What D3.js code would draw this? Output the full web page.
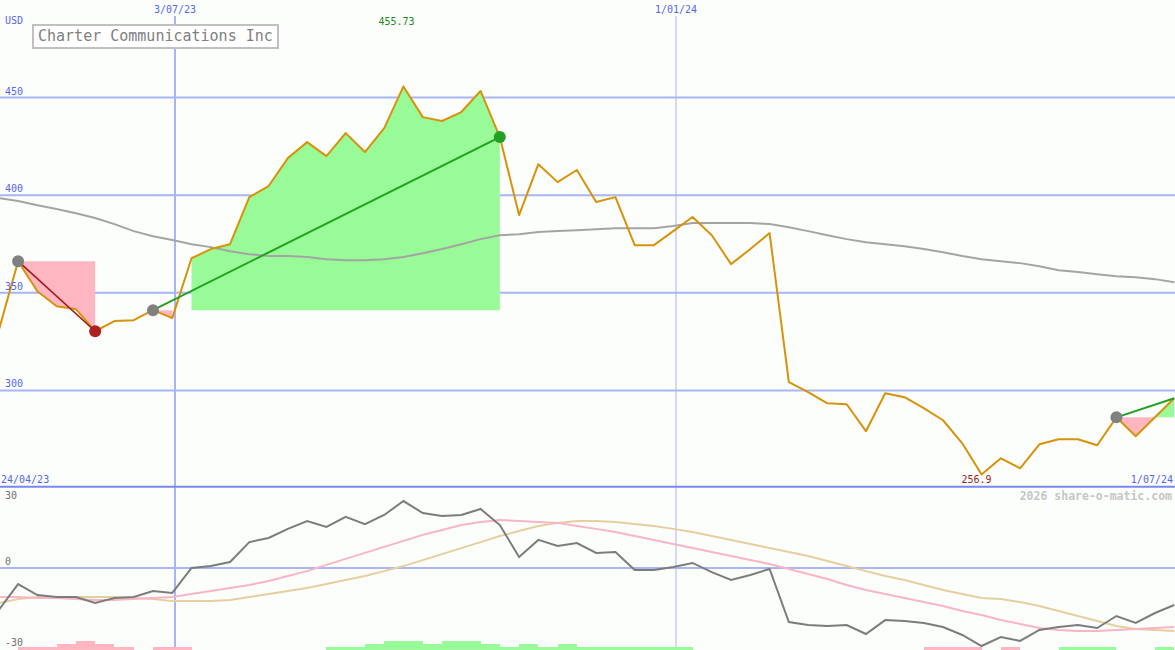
<!DOCTYPE html>
<html><head><meta charset="utf-8">
<script src="https://cdn.jsdelivr.net/npm/d3@7"></script>
<style>
html,body{margin:0;padding:0;background:#fcfefc;}
svg{display:block;}
text{font-family:"DejaVu Sans Mono",monospace;}
</style></head>
<body>
<svg id="c" width="1175" height="650"></svg>
<script>
const dates = ["2023-04-30","2023-05-07","2023-05-14","2023-05-21","2023-05-28","2023-06-04","2023-06-11","2023-06-18","2023-06-25","2023-07-02",
"2023-07-09","2023-07-16","2023-07-23","2023-07-30","2023-08-06","2023-08-13","2023-08-20","2023-08-27","2023-09-03","2023-09-10",
"2023-09-17","2023-09-24","2023-10-01","2023-10-08","2023-10-15","2023-10-22","2023-10-29","2023-11-05","2023-11-12","2023-11-19",
"2023-11-26","2023-12-03","2023-12-10","2023-12-17","2023-12-24","2023-12-31","2024-01-07","2024-01-14","2024-01-21","2024-01-28",
"2024-02-04","2024-02-11","2024-02-18","2024-02-25","2024-03-03","2024-03-10","2024-03-17","2024-03-24","2024-03-31","2024-04-07",
"2024-04-14","2024-04-21","2024-04-28","2024-05-05","2024-05-12","2024-05-19","2024-05-26","2024-06-02","2024-06-09","2024-06-16",
"2024-06-23","2024-06-30"];
const price = [330.8,366.2,350.8,343.1,341.6,330.3,335.5,336.0,341.1,337.0,
367.7,372.4,374.9,399.0,404.7,419.0,427.2,420.0,431.8,422.1,
434.4,455.73,440.0,438.0,442.6,453.4,429.8,389.8,415.9,406.7,
412.9,396.5,399.0,374.4,374.4,381.6,388.8,379.5,364.7,372.4,
380.6,304.2,299.1,293.4,292.9,279.1,298.5,296.5,290.9,284.7,
272.9,256.9,265.2,260.1,272.4,275.0,275.0,271.9,286.2,276.5,
286.2,296.0];
const priceMA = [398.5,397.0,394.9,392.9,390.8,388.3,385.2,381.6,379.0,377.0,
374.9,373.4,371.3,369.8,368.8,368.8,368.3,367.2,366.7,366.7,
367.2,368.3,370.3,372.4,374.9,377.5,379.5,380.0,381.1,381.6,
382.1,382.6,383.1,383.1,383.1,384.2,385.7,385.7,385.7,385.7,
385.2,383.6,381.6,379.5,377.5,375.9,374.9,373.9,372.4,370.8,
368.8,367.2,366.2,365.2,363.6,361.6,360.6,359.5,358.5,358.0,
357.0,355.4];
const osc = [-17.5,-6.7,-11.3,-12.1,-12.1,-14.6,-12.5,-12.1,-9.6,-10.4,
0,0.8,2.5,10.8,12.5,16.3,19.6,17.1,21.3,18.3,
22.1,27.9,22.9,21.7,22.1,24.6,17.9,4.6,11.7,9.2,
10.4,6.3,6.7,-0.8,-0.8,0.4,2.1,-1.7,-5.0,-2.9,
-0.4,-22.5,-23.75,-24.2,-23.75,-27.5,-21.7,-22.1,-22.9,-24.6,
-27.9,-32.5,-28.75,-30.4,-25.8,-24.6,-23.75,-25.0,-20.0,-22.9,
-18.75,-15.4];
const oscSignal = [-12.1,-12.1,-12.5,-12.5,-12.9,-13.3,-13.3,-12.9,-12.5,-12.1,
-10.8,-9.6,-8.3,-7.1,-5.4,-3.3,-1.3,1.3,3.8,6.3,
8.8,11.3,13.8,15.8,17.9,19.2,20.0,19.6,19.2,18.8,
17.5,16.3,15.0,13.3,11.7,10.0,8.3,6.7,5.0,3.3,
1.7,-0.4,-2.5,-4.6,-7.1,-9.2,-10.8,-12.5,-14.2,-15.8,
-17.9,-19.6,-21.7,-23.3,-25.0,-25.8,-26.3,-26.3,-25.8,-25.4,
-25.0,-24.6];
const oscSlow = [-14.6,-12.9,-12.1,-12.1,-12.1,-12.1,-12.1,-12.5,-12.9,-13.8,
-13.8,-13.8,-13.3,-12.1,-10.8,-9.6,-8.3,-6.7,-5.0,-3.3,
-1.3,0.8,3.3,5.8,8.3,10.8,13.3,15.4,17.5,18.8,
19.6,19.6,19.2,18.3,17.5,16.3,15.0,13.3,11.7,10.0,
8.3,6.7,5.0,2.9,0.8,-1.3,-3.3,-5.0,-7.1,-9.2,
-10.8,-12.5,-12.9,-14.2,-15.8,-17.9,-20.0,-22.1,-24.2,-25.4,
-25.8,-26.3];
// weekly signal bars (interval i spans dates[i]..dates[i+1]); + = green, - = pink
const bars = [0,-1,-1,-2,-3,-2,-1,0,-1,-1,
0,0,0,0,0,0,0,1,1,2,
3,3,2,3,3,2,1,2,1,2,
1,1,1,1,1,1,0,0,0,0,
0,0,0,0,0,0,0,0,-1,-1,
-1,0,-1,0,0,1,1,1,0,0,
1];
const trades = [{entry:1, exit:5},{entry:8, exit:26},{entry:58, exit:null}];
const priceTicks = [300,350,400,450];
const oscTicks = [30,0,-30];
const dateTicks = ["2023-07-03","2024-01-01"];
const dateTickLabels = ["3/07/23","1/01/24"];
const dateTickWidths = [2,1];
const startLabel = "24/04/23", endLabel = "1/07/24";
const title = "Charter Communications Inc";
const currency = "USD";
const credit = "2026 share-o-matic.com";

const W = 1175, H = 650;
const svg = d3.select("#c");
const pd = dates.map(s => new Date(s + "T00:00:00Z"));
const x = d3.scaleUtc().domain([new Date("2023-07-03T00:00:00Z"), new Date("2024-01-01T00:00:00Z")]).range([175, 676]);
const y = d3.scaleLinear().domain([250, 500]).range([488, 0]);
const yo = d3.scaleLinear().domain([-30, 30]).range([640, 496]);
const yb = d3.scaleLinear().domain([0, 3]).range([650, 641]);

const gridC = "#a9b5f5", tickC = "#5566ee";
const green = "#98fb98", pink = "#ffb6c1";

svg.append("rect").attr("width", W).attr("height", H).attr("fill", "#fcfefc");

// horizontal price grid
svg.append("g").selectAll("line").data(priceTicks).join("line")
  .attr("x1", 0).attr("x2", W).attr("y1", d => y(d)).attr("y2", d => y(d))
  .attr("stroke", gridC).attr("stroke-width", 2);

// trade fills
const area = d3.area().x(i => x(pd[i])).y1(i => y(price[i]));
trades.forEach(t => {
  const e = price[t.entry];
  const end = t.exit == null ? price.length - 1 : t.exit;
  const runs = []; let cur = null;
  for (let i = t.entry; i < end; i++) {
    const a = price[i] - e, b = price[i + 1] - e;
    if (a * b < 0 || (a === 0 && b === 0)) { cur = null; continue; }
    const c = (a + b) > 0 ? green : pink;
    if (cur && cur.c === c && cur.last === i) { cur.idx.push(i + 1); cur.last = i + 1; }
    else { cur = {c, idx: [i, i + 1], last: i + 1}; runs.push(cur); }
  }
  runs.forEach(r => {
    svg.append("path").attr("d", area.y0(y(e))(r.idx)).attr("fill", r.c);
  });
});

// vertical date lines
svg.append("g").selectAll("line").data(dateTicks).join("line")
  .attr("x1", d => x(new Date(d + "T00:00:00Z"))).attr("x2", d => x(new Date(d + "T00:00:00Z")))
  .attr("y1", 16).attr("y2", H)
  .attr("stroke", gridC).attr("stroke-width", (d, i) => dateTickWidths[i]);

// panel separator and osc zero line
svg.append("line").attr("x1", 0).attr("x2", W).attr("y1", 486.75).attr("y2", 486.75)
  .attr("stroke", "#7888f0").attr("stroke-width", 2);
svg.append("line").attr("x1", 0).attr("x2", W).attr("y1", yo(0)).attr("y2", yo(0))
  .attr("stroke", gridC).attr("stroke-width", 2);

// price MA & price line
const line = (arr, sc) => d3.line().x((d, i) => x(pd[i])).y(d => sc(d))(arr);
svg.append("path").attr("d", line(priceMA, y)).attr("fill", "none").attr("stroke", "#a4a4a4").attr("stroke-width", 2);
svg.append("path").attr("d", line(price, y)).attr("fill", "none").attr("stroke", "#d8920a").attr("stroke-width", 2).attr("stroke-linejoin", "round");

// trade lines and dots
trades.forEach(t => {
  const end = t.exit == null ? price.length - 1 : t.exit;
  const gain = price[end] >= price[t.entry];
  svg.append("line")
    .attr("x1", x(pd[t.entry])).attr("y1", y(price[t.entry]))
    .attr("x2", x(pd[end])).attr("y2", y(price[end]))
    .attr("stroke", gain ? "#22a022" : "#a01818").attr("stroke-width", gain ? 2 : 1.6);
  svg.append("circle").attr("cx", x(pd[t.entry])).attr("cy", y(price[t.entry])).attr("r", 6).attr("fill", "#808080");
  if (t.exit != null) {
    svg.append("circle").attr("cx", x(pd[end])).attr("cy", y(price[end])).attr("r", 6)
      .attr("fill", gain ? "#22a022" : "#b02020");
  }
});

// oscillator panel bars
svg.append("g").selectAll("rect").data(bars).join("rect")
  .attr("x", (d, i) => x(pd[i])).attr("width", (d, i) => x(pd[i + 1]) - x(pd[i]))
  .attr("y", d => yb(Math.abs(d))).attr("height", d => yb(0) - yb(Math.abs(d)))
  .attr("fill", d => d > 0 ? green : pink).attr("shape-rendering", "crispEdges");

svg.append("path").attr("d", line(oscSlow, yo)).attr("fill", "none").attr("stroke", "#e6cf9f").attr("stroke-width", 2);
svg.append("path").attr("d", line(oscSignal, yo)).attr("fill", "none").attr("stroke", "#f9b4c6").attr("stroke-width", 2);
svg.append("path").attr("d", line(osc, yo)).attr("fill", "none").attr("stroke", "#7c7c7c").attr("stroke-width", 2);

// labels
const T = (tx, ty, s, c, anchor, size, weight) => svg.append("text").attr("x", tx).attr("y", ty).text(s)
  .attr("fill", c).attr("text-anchor", anchor || "start").attr("font-size", (size || 10) + "px")
  .attr("font-weight", weight || "normal");

priceTicks.forEach(v => T(5, y(v) - 3, String(v), tickC));
T(5, 24, currency, tickC);
dateTicks.forEach((d, i) => T(x(new Date(d + "T00:00:00Z")), 13, dateTickLabels[i], tickC, "middle"));
T(1, 483, startLabel, tickC);
T(1173, 483, endLabel, tickC, "end");
T(1172, 500, credit, "#c6c6c6", "end", 11.5, "bold");

oscTicks.forEach(v => T(5, yo(v) + (v > 0 ? 3 : v < 0 ? 6 : -3), String(v), "#707070"));

const iMax = d3.maxIndex(price), iMin = d3.minIndex(price);
T(x(pd[iMax]) - 7, 25, String(price[iMax]), "#1f8a1f", "middle");
T(x(pd[iMin]) - 5, 483, String(price[iMin]), "#a01c1c", "middle");

// title box
svg.append("rect").attr("x", 33).attr("y", 25).attr("width", 245).attr("height", 23)
  .attr("fill", "#ffffff").attr("stroke", "#c0c0c0").attr("stroke-width", 2);
T(38, 41, title, "#808080", "start", 15);
</script>
</body></html>
